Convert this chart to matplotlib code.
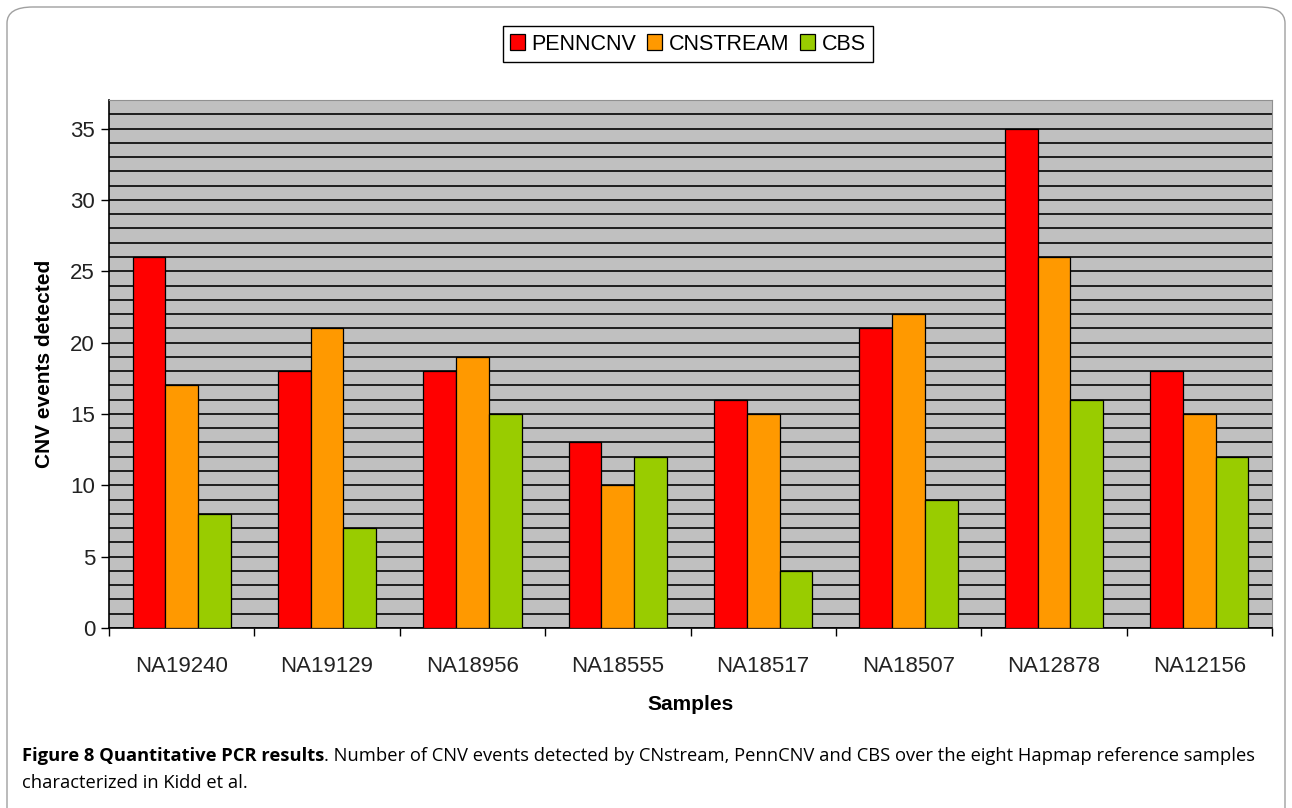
import matplotlib.pyplot as plt
import numpy as np
from matplotlib.patches import FancyBboxPatch
from matplotlib.ticker import MultipleLocator

# sample names and counts per method
samples = ['NA19240', 'NA19129', 'NA18956', 'NA18555', 'NA18517', 'NA18507', 'NA12878', 'NA12156']
penncnv = [26, 18, 18, 13, 16, 21, 35, 18]
cnstream = [17, 21, 19, 10, 15, 22, 26, 15]
cbs = [8, 7, 15, 12, 4, 9, 16, 12]

methods = ['PENNCNV', 'CNSTREAM', 'CBS']
colors = ['#ff0000', '#ff9900', '#99cc00']

fig = plt.figure(figsize=(12.92, 8.08), dpi=100)
ax = fig.add_axes([109/1292, 1 - 628/808, (1272-109)/1292, (628-100)/808])

x = np.arange(len(samples))
w = 0.225
for i, (vals, c, name) in enumerate(zip([penncnv, cnstream, cbs], colors, methods)):
    ax.bar(x + (i - 1) * w, vals, w, color=c, edgecolor='black', linewidth=0.9, label=name, zorder=3)

ax.set_facecolor('#c0c0c0')
ax.set_xlim(-0.5, len(samples) - 0.5)
ax.set_ylim(0, 37)
ax.yaxis.set_major_locator(MultipleLocator(5))
ax.yaxis.set_minor_locator(MultipleLocator(1))
ax.grid(axis='y', which='both', color='#111111', linewidth=1.3, zorder=1)
ax.set_axisbelow(True)

ax.set_xticks(x)
ax.set_xticklabels(samples)
ax.set_xticks(np.arange(-0.5, len(samples)), minor=True)
ax.tick_params(axis='x', which='major', length=0, pad=20, labelsize=16)
ax.tick_params(axis='x', which='minor', length=6, direction='out', width=1)
ax.tick_params(axis='y', which='major', length=6, direction='out', width=1, labelsize=16, pad=4)
ax.tick_params(axis='y', which='minor', length=0)
for lab in ax.get_xticklabels() + ax.get_yticklabels():
    lab.set_fontfamily('Liberation Sans')
    lab.set_color('#222222')

for s in ['top', 'right']:
    ax.spines[s].set_color('#909090')
for s in ['left', 'bottom']:
    ax.spines[s].set_color('black')
    ax.spines[s].set_linewidth(1.2)

ax.set_xlabel('Samples', fontsize=15, fontweight='bold', family='Liberation Sans', labelpad=13)
ax.set_ylabel('CNV events detected', fontsize=15, fontweight='bold', family='Liberation Sans', labelpad=12)

leg = fig.legend(loc='center', bbox_to_anchor=(688/1292, 1 - 44/808), ncol=3,
                 frameon=True, fancybox=False, edgecolor='black', framealpha=1,
                 prop={'family': 'Liberation Sans', 'size': 15.5},
                 handlelength=0.7, handleheight=0.7, handletextpad=0.3, columnspacing=0.5,
                 borderpad=0.35, borderaxespad=0)
leg.get_frame().set_linewidth(1.0)

# outer rounded frame
frame = FancyBboxPatch((7/1292, -0.05), 1278/1292, 1 - 7/808 + 0.05,
                       boxstyle='round,pad=0,rounding_size=0.02', transform=fig.transFigure,
                       facecolor='none', edgecolor='#a0a0a0', linewidth=1.0)
fig.patches.append(frame)

# caption
fs = 13.25
fig.text(22/1292, 1 - 756/808, 'Figure 8 Quantitative PCR results', fontsize=fs, fontweight='bold',
         family='Open Sans', va='center', ha='left')
fig.text(22/1292, 1 - 783/808, 'characterized in Kidd et al.', fontsize=fs,
         family='Open Sans', va='center', ha='left')
fig.canvas.draw()
bold = fig.texts[0].get_window_extent()
fig.text(bold.x1 / 1292, 1 - 756/808,
         '. Number of CNV events detected by CNstream, PennCNV and CBS over the eight Hapmap reference samples',
         fontsize=fs, family='Open Sans', va='center', ha='left')

fig.savefig('out.png', dpi=100)
